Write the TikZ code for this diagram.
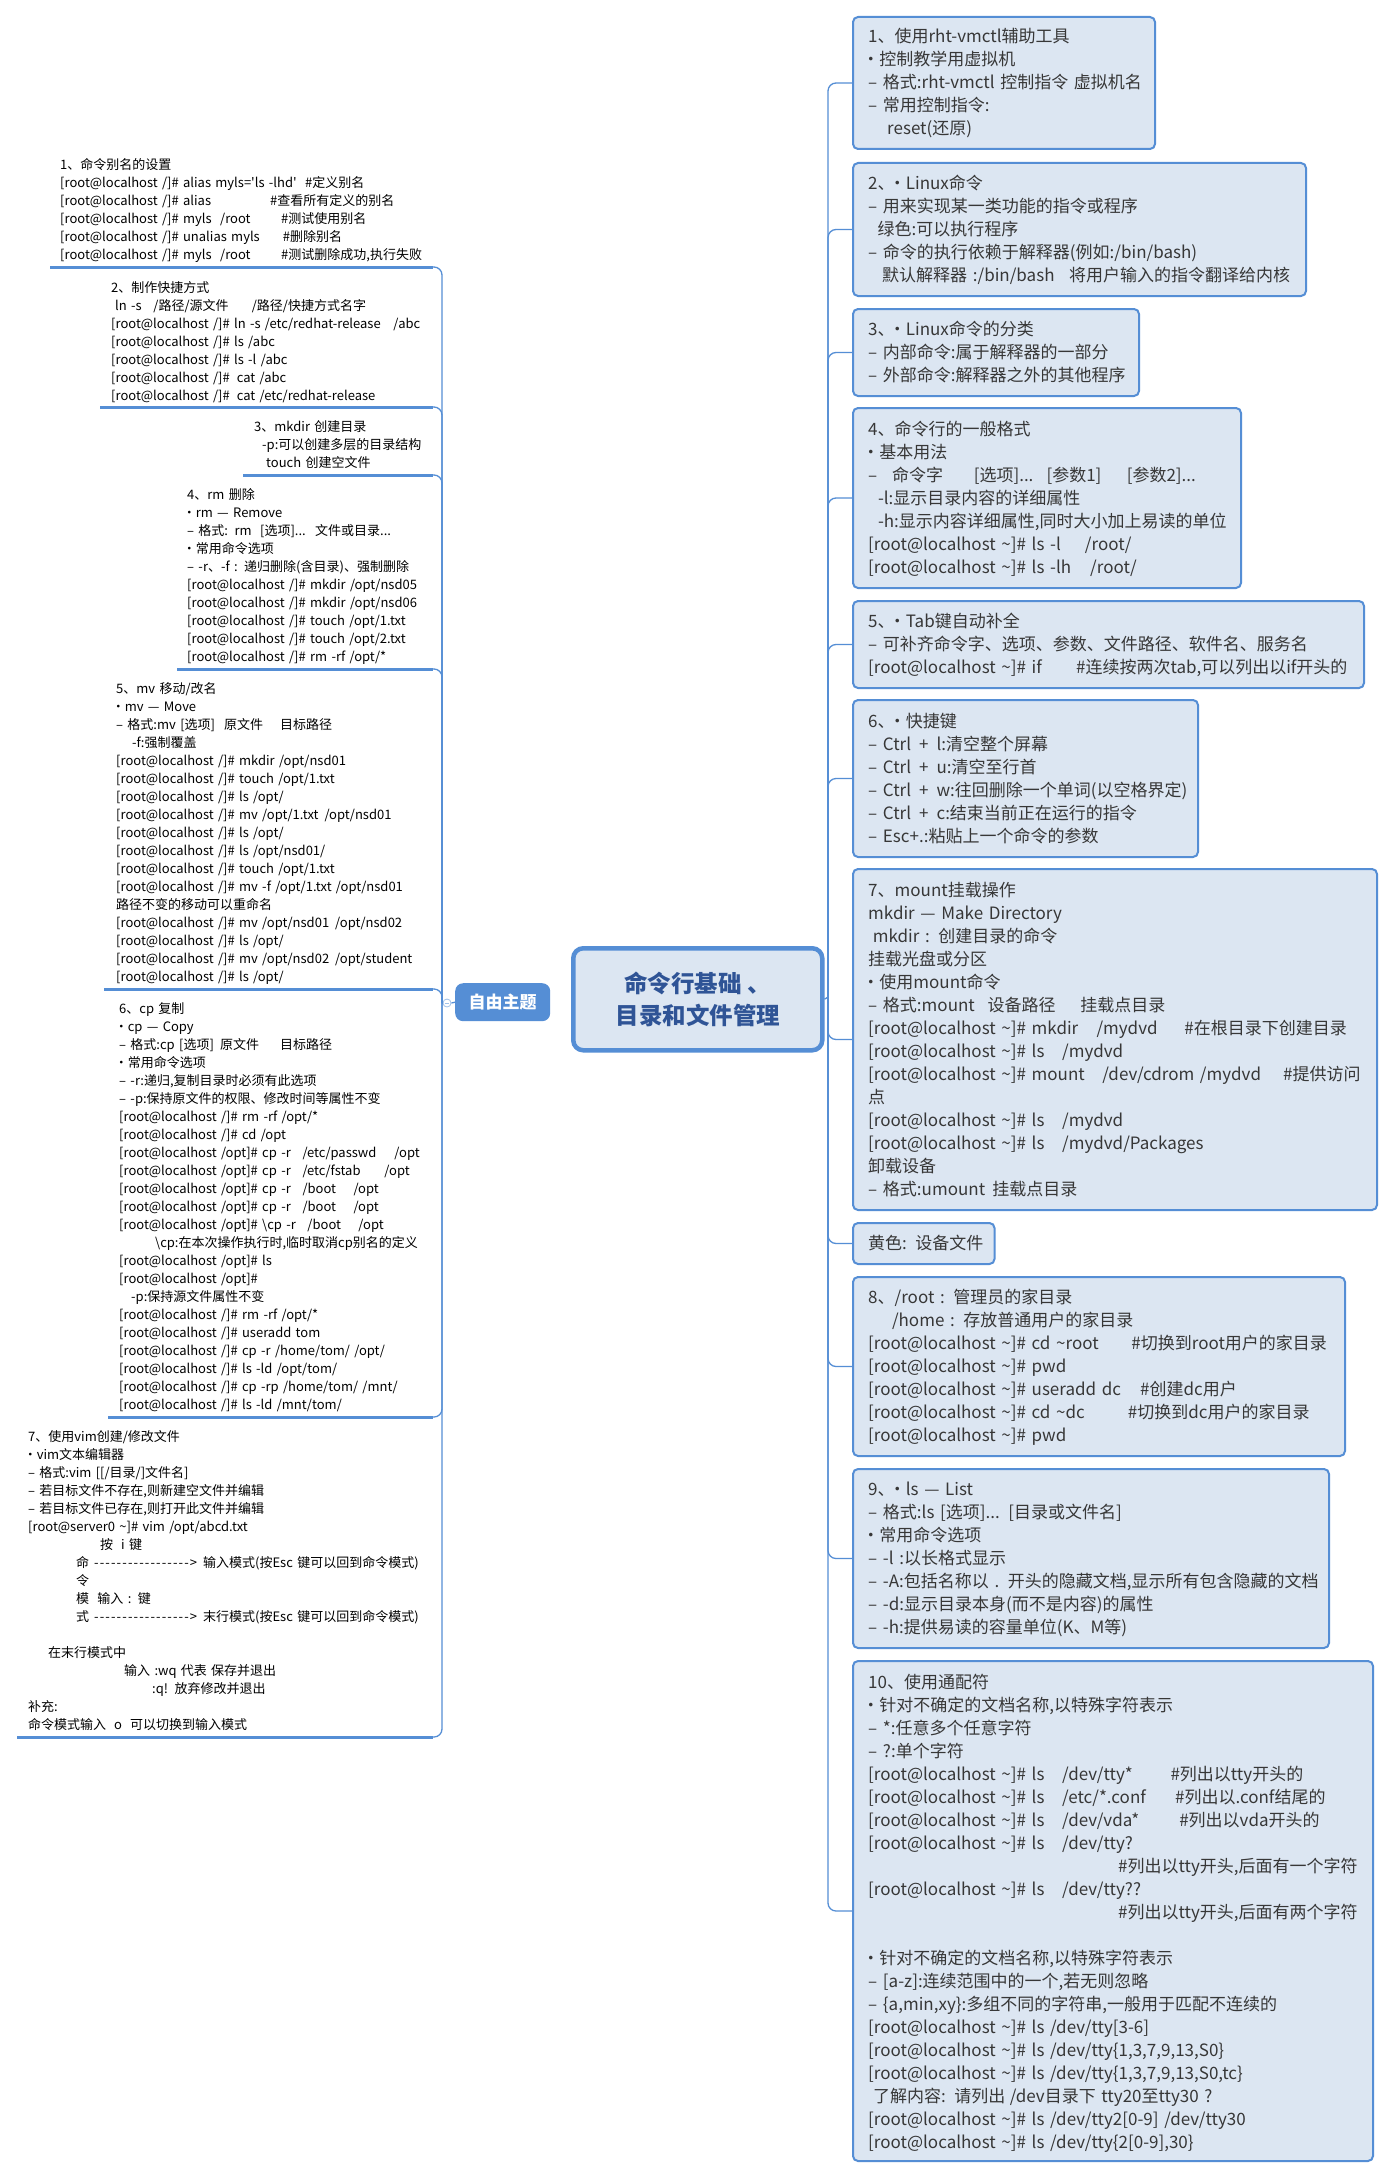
\documentclass[tikz,border=0pt]{standalone}
\usepackage{fontspec}
\setmainfont{Noto Sans CJK SC}
\usetikzlibrary{calc}
\definecolor{bblue}{RGB}{85,142,213}
\definecolor{bfill}{RGB}{220,230,242}
\definecolor{ctext}{RGB}{47,84,150}
\definecolor{rtext}{RGB}{55,55,55}
\newcommand\mycell[2]{\makebox[#1pt][l]{#2}}
\newcommand\hs[1]{\hspace*{#1pt}}
\newcommand\tld{\textasciitilde}
\newcommand\bul{\makebox[0.32em][c]{•}\hspace*{0.34em}}
\newcommand\RL{[root@localhost \tld]\#}
\newcommand\RS{[root@localhost /]\#}
\newcommand\RO{[root@localhost /opt]\#}
\newcommand\dsh{\makebox[103pt][s]{-\hfill-\hfill-\hfill-\hfill-\hfill-\hfill-\hfill-\hfill-\hfill-\hfill-\hfill-\hfill-\hfill-\hfill-\hfill-\hfill-\hfill>}}
\tikzset{
  rbox/.style={draw=bblue, line width=2pt, fill=bfill, rounded corners=5pt, anchor=north west, inner sep=0pt},
  rtxt/.style={anchor=base west, inner sep=0pt, text width=540pt, align=left, text=rtext, font=\fontsize{17}{23}\selectfont},
  ltxt/.style={anchor=base west, inner sep=0pt, text width=420pt, align=left, text=black, font=\fontsize{13}{18}\selectfont},
  conn/.style={draw=bblue, line width=1.3pt, rounded corners=8pt},
  uline/.style={draw=bblue, line width=3pt},
}
\begin{document}
\begin{tikzpicture}[x=1pt,y=-1pt]
\useasboundingbox (0,0) rectangle (1393,2178);
\fill[white] (0,0) rectangle (1393,2178);

% ---------- central topic ----------
\node[draw=bblue, line width=4.5pt, fill=bfill, rounded corners=10pt, anchor=north west,
  minimum width=249pt, minimum height=102pt, inner sep=0pt, align=center, text=ctext,
  font=\fontsize{23.5}{32}\selectfont\bfseries] (c) at (571,946) {命令行基础\hs{6}、\\目录和文件管理};

% ---------- floating topic ----------
\node[fill=bblue, rounded corners=8pt, anchor=north west, minimum width=95pt, minimum height=38pt,
  inner sep=0pt, text=white, font=\fontsize{17}{20}\selectfont\bfseries] (f) at (455,983) {自由主题};

% ---------- right boxes ----------
\node[rbox,minimum width=302pt,minimum height=132pt] (r1) at (852,16) {};
\node[rbox,minimum width=453pt,minimum height=133pt] (r2) at (852,162) {};
\node[rbox,minimum width=286pt,minimum height=87pt] (r3) at (852,308) {};
\node[rbox,minimum width=388pt,minimum height=180pt] (r4) at (852,407) {};
\node[rbox,minimum width=511pt,minimum height=87pt] (r5) at (852,600) {};
\node[rbox,minimum width=345pt,minimum height=157pt] (r6) at (852,699) {};
\node[rbox,minimum width=524pt,minimum height=341pt] (r7) at (852,868) {};
\node[rbox,minimum width=141.5pt,minimum height=41pt] (ry) at (852,1222) {};
\node[rbox,minimum width=492pt,minimum height=179pt] (r8) at (852,1276) {};
\node[rbox,minimum width=476pt,minimum height=179pt] (r9) at (852,1468) {};
\node[rbox,minimum width=520pt,minimum height=500pt] (r10) at (852,1660) {};

% ---------- right connectors ----------
\coordinate (rj) at (828,997);
\draw[conn] (c.east) -- (rj);
\foreach \n in {r1,r2,r3,r4,r5,r6,r7,ry,r8,r9,r10}
  \draw[conn] (rj) |- (\n.west);

% ---------- right texts ----------
\node[rtxt] (t1) at (868,43) {1、使用rht-vmctl辅助工具\\\bul 控制教学用虚拟机\\– 格式:rht-vmctl 控制指令 虚拟机名\\– 常用控制指令:\\\hs{19}reset(还原)};
\node[rtxt] (t2) at (868,189.6) {2、\bul Linux命令\\– 用来实现某一类功能的指令或程序\\\hs{9.5}绿色:可以执行程序\\– 命令的执行依赖于解释器(例如:/bin/bash)\\\hs{14}\mycell{187}{默认解释器 :/bin/bash}将用户输入的指令翻译给内核};
\node[rtxt] (t3) at (868,335.6) {3、\bul Linux命令的分类\\– 内部命令:属于解释器的一部分\\– 外部命令:解释器之外的其他程序};
\node[rtxt] (t4) at (868,435.6) {4、命令行的一般格式\\\bul 基本用法\\\mycell{23.8}{–}\mycell{81.8}{命令字}\mycell{72.7}{[选项]...}\mycell{80.3}{[参数1]}[参数2]...\\\hs{9.8}-l:显示目录内容的详细属性\\\hs{9.8}-h:显示内容详细属性,同时大小加上易读的单位\\\mycell{216.7}{\RL\ ls -l}/root/\\\mycell{222}{\RL\ ls -lh}/root/};
\node[rtxt] (t5) at (868,627.3) {5、\bul Tab键自动补全\\– 可补齐命令字、选项、参数、文件路径、软件名、服务名\\\mycell{208}{\RL\ if}\#连续按两次tab,可以列出以if开头的};
\node[rtxt] (t6) at (868,727.3) {6、\bul 快捷键\\– Ctrl\hs{8}+\hs{8}l:清空整个屏幕\\– Ctrl\hs{8}+\hs{8}u:清空至行首\\– Ctrl\hs{8}+\hs{8}w:往回删除一个单词(以空格界定)\\– Ctrl\hs{8}+\hs{8}c:结束当前正在运行的指令\\– Esc+.:粘贴上一个命令的参数};
\node[rtxt] (t7) at (868,896.3) {7、mount挂载操作\\mkdir — Make Directory\\\hs{4.6}mkdir : 创建目录的命令\\挂载光盘或分区\\\bul 使用mount命令\\\mycell{119.5}{– 格式:mount}\mycell{92.7}{设备路径}挂载点目录\\\mycell{228.3}{\RL\ mkdir}\mycell{88}{/mydvd}\#在根目录下创建目录\\\mycell{194}{\RL\ ls}/mydvd\\\mycell{234.2}{\RL\ mount}\mycell{180.7}{/dev/cdrom /mydvd}\#提供访问\\点\\\mycell{194}{\RL\ ls}/mydvd\\\mycell{194}{\RL\ ls}/mydvd/Packages\\卸载设备\\\mycell{124.1}{– 格式:umount}挂载点目录};
\node[rtxt] (ty) at (868,1249) {黄色: 设备文件};
\node[rtxt] (t8) at (868,1303) {8、/root : 管理员的家目录\\\hs{23.8}/home : 存放普通用户的家目录\\\mycell{263.2}{\RL\ cd \tld root}\#切换到root用户的家目录\\\RL\ pwd\\\mycell{271.9}{\RL\ useradd dc}\#创建dc用户\\\mycell{259.7}{\RL\ cd \tld dc}\#切换到dc用户的家目录\\\RL\ pwd};
\node[rtxt] (t9) at (868,1495.3) {9、\bul ls — List\\– 格式:ls [选项]... [目录或文件名]\\\bul 常用命令选项\\– -l :以长格式显示\\– -A:包括名称以 . 开头的隐藏文档,显示所有包含隐藏的文档\\– -d:显示目录本身(而不是内容)的属性\\– -h:提供易读的容量单位(K、M等)};
\node[rtxt] (t10) at (868,1688) {10、使用通配符\\\bul 针对不确定的文档名称,以特殊字符表示\\– *:任意多个任意字符\\– ?:单个字符\\\mycell{194}{\RL\ ls}\mycell{108.3}{/dev/tty*}\#列出以tty开头的\\\mycell{194}{\RL\ ls}\mycell{112.9}{/etc/*.conf}\#列出以.conf结尾的\\\mycell{194}{\RL\ ls}\mycell{117.1}{/dev/vda*}\#列出以vda开头的\\\mycell{194}{\RL\ ls}/dev/tty?\\\hs{249.9}\#列出以tty开头,后面有一个字符\\\mycell{194}{\RL\ ls}/dev/tty??\\\hs{249.9}\#列出以tty开头,后面有两个字符\\\mbox{}\\\bul 针对不确定的文档名称,以特殊字符表示\\– [a-z]:连续范围中的一个,若无则忽略\\– \{a,min,xy\}:多组不同的字符串,一般用于匹配不连续的\\\RL\ ls /dev/tty[3-6]\\\RL\ ls /dev/tty\{1,3,7,9,13,S0\}\\\RL\ ls /dev/tty\{1,3,7,9,13,S0,tc\}\\\mycell{141.6}{\hs{5}了解内容: 请列出}/dev目录下 tty20至tty30 ?\\\RL\ ls /dev/tty2[0-9] /dev/tty30\\\RL\ ls /dev/tty\{2[0-9],30\}};

% ---------- left subtree ----------
\coordinate (lj) at (442,1003);
\node[circle, draw=bblue!55, fill=white, line width=0.8pt, minimum size=8pt, inner sep=0pt] (col) at (447,1003) {};
\draw[bblue!55, line width=0.8pt] ($(col.center)+(-2.3,0)$) -- ($(col.center)+(2.3,0)$);
\draw[conn] (lj) -- (col.west);
\draw[conn] (col.east) -- (f.west);

\coordinate (ls1) at (50,267);   \coordinate (le1) at (433,267);
\coordinate (ls2) at (100,407);  \coordinate (le2) at (433,407);
\coordinate (ls3) at (243,475);  \coordinate (le3) at (433,475);
\coordinate (ls4) at (177,669);  \coordinate (le4) at (433,669);
\coordinate (ls5) at (104,989);  \coordinate (le5) at (433,989);
\coordinate (ls6) at (108,1417); \coordinate (le6) at (433,1417);
\coordinate (ls7) at (17,1737);  \coordinate (le7) at (433,1737);
\foreach \i in {1,...,7}{
  \draw[uline] (ls\i) -- (le\i);
  \draw[conn] (le\i) -| (lj);
}

\node[ltxt] (l1) at (60,170) {1、命令别名的设置\\\mycell{245}{\RS\ alias myls=\textquotesingle ls -lhd\textquotesingle}\#定义别名\\\mycell{210}{\RS\ alias}\#查看所有定义的别名\\\mycell{160}{\RS\ myls}\mycell{61}{/root}\#测试使用别名\\\mycell{222.7}{\RS\ unalias myls}\#删除别名\\\mycell{160}{\RS\ myls}\mycell{61}{/root}\#测试删除成功,执行失败};
\node[ltxt] (l2) at (111,292) {2、制作快捷方式\\\mycell{42.3}{\hs{4}ln -s}\mycell{98.4}{/路径/源文件}/路径/快捷方式名字\\\mycell{282.3}{\RS\ ln -s /etc/redhat-release}/abc\\\RS\ ls /abc\\\RS\ ls -l /abc\\\RS\hs{7}cat /abc\\\RS\hs{7}cat /etc/redhat-release};
\node[ltxt] (l3) at (254,431) {3、mkdir 创建目录\\\hs{8}-p:可以创建多层的目录结构\\\hs{12}touch 创建空文件};
\node[ltxt] (l4) at (187,499) {4、rm 删除\\\bul rm — Remove\\\mycell{73}{– 格式: rm}\mycell{55}{[选项]...}文件或目录...\\\bul 常用命令选项\\– -r、-f : 递归删除(含目录)、强制删除\\\RS\ mkdir /opt/nsd05\\\RS\ mkdir /opt/nsd06\\\RS\ touch /opt/1.txt\\\RS\ touch /opt/2.txt\\\RS\ rm -rf /opt/*};
\node[ltxt] (l5) at (116,693) {5、mv 移动/改名\\\bul mv — Move\\\mycell{108}{– 格式:mv [选项]}\mycell{56}{原文件}目标路径\\\hs{16}-f:强制覆盖\\\RS\ mkdir /opt/nsd01\\\RS\ touch /opt/1.txt\\\RS\ ls /opt/\\\RS\ mv /opt/1.txt\hs{6}/opt/nsd01\\\RS\ ls /opt/\\\RS\ ls /opt/nsd01/\\\RS\ touch /opt/1.txt\\\RS\ mv -f /opt/1.txt /opt/nsd01\\路径不变的移动可以重命名\\\RS\ mv /opt/nsd01\hs{6}/opt/nsd02\\\RS\ ls /opt/\\\RS\ mv /opt/nsd02\hs{6}/opt/student\\\RS\ ls /opt/};
\node[ltxt] (l6) at (119,1013) {6、cp 复制\\\bul cp — Copy\\\mycell{101}{– 格式:cp [选项]}\mycell{60}{原文件}目标路径\\\bul 常用命令选项\\– -r:递归,复制目录时必须有此选项\\– -p:保持原文件的权限、修改时间等属性不变\\\RS\ rm -rf /opt/*\\\RS\ cd /opt\\\mycell{183.3}{\RO\ cp -r}\mycell{92}{/etc/passwd}/opt\\\mycell{183.3}{\RO\ cp -r}\mycell{82}{/etc/fstab}/opt\\\mycell{183.3}{\RO\ cp -r}\mycell{51}{/boot}/opt\\\mycell{183.3}{\RO\ cp -r}\mycell{51}{/boot}/opt\\\mycell{188.3}{\RO\ \textbackslash cp -r}\mycell{51}{/boot}/opt\\\hs{36}\textbackslash cp:在本次操作执行时,临时取消cp别名的定义\\\RO\ ls\\\RO\\\hs{12}-p:保持源文件属性不变\\\RS\ rm -rf /opt/*\\\RS\ useradd tom\\\RS\ cp -r /home/tom/ /opt/\\\RS\ ls -ld /opt/tom/\\\RS\ cp -rp /home/tom/ /mnt/\\\RS\ ls -ld /mnt/tom/};
\node[ltxt] (l7) at (28,1441) {7、使用vim创建/修改文件\\\bul vim文本编辑器\\– 格式:vim [[/目录/]文件名]\\– 若目标文件不存在,则新建空文件并编辑\\– 若目标文件已存在,则打开此文件并编辑\\{}[root@server0 \tld]\# vim /opt/abcd.txt\\\hs{72}按\hs{8}i 键\\\hs{48}\mycell{18}{命}\dsh\hs{6}输入模式(按Esc 键可以回到命令模式)\\\hs{48}令\\\hs{48}\mycell{21.3}{模}输入 : 键\\\hs{48}\mycell{18}{式}\dsh\hs{6}末行模式(按Esc 键可以回到命令模式)\\\mbox{}\\\hs{20}在末行模式中\\\hs{96}输入 :wq 代表 保存并退出\\\hs{124}:q! 放弃修改并退出\\补充:\\命令模式输入\hs{8}o\hs{8}可以切换到输入模式};
\end{tikzpicture}
\end{document}
